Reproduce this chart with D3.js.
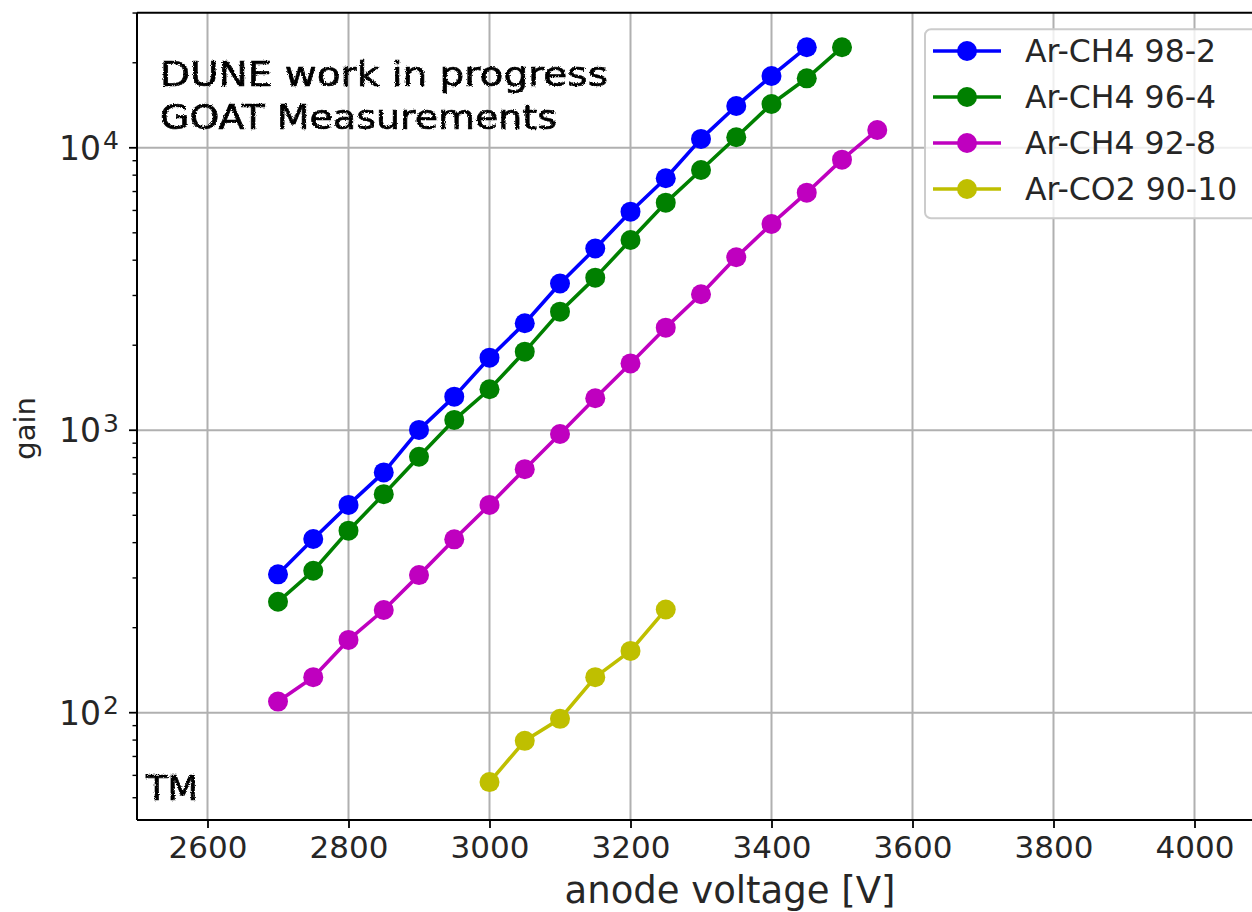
<!DOCTYPE html>
<html>
<head>
<meta charset="utf-8">
<script src="https://cdn.jsdelivr.net/npm/d3@7/dist/d3.min.js"></script>
<style>
  html, body { margin: 0; padding: 0; background: #ffffff; overflow: hidden; }
  svg { display: block; }
  text { font-family: "DejaVu Sans", sans-serif; fill: #262626; }
</style>
</head>
<body>
<svg id="chart" width="1252" height="912"></svg>
<script>
// Anode voltage scan points [V]
const voltages = [2700, 2750, 2800, 2850, 2900, 2950, 3000, 3050, 3100, 3150,
                  3200, 3250, 3300, 3350, 3400, 3450, 3500, 3550];

// Gas gain per mixture
const gainArCH4_98_2 = [309, 412, 544, 709, 1003, 1315, 1807, 2392, 3308, 4400,
                        5940, 7800, 10750, 14060, 17960, 22690];
const gainArCH4_96_4 = [247, 318, 441, 594, 806, 1088, 1397, 1898, 2629, 3470,
                        4717, 6393, 8343, 10895, 14290, 17620, 22690];
const gainArCH4_92_8 = [109.5, 133.6, 181, 231, 307, 411, 544, 728, 970, 1298,
                        1724, 2308, 3030, 4097, 5375, 6935, 9077, 11560];
const voltagesArCO2 = [3000, 3050, 3100, 3150, 3200, 3250];
const gainArCO2_90_10 = [56.8, 79.5, 95.1, 133.6, 165.5, 232];

const seriesNames = ["Ar-CH4 98-2", "Ar-CH4 96-4", "Ar-CH4 92-8", "Ar-CO2 90-10"];
const seriesColors = ["#0000ff", "#008000", "#bf00bf", "#bfbf00"];

const xTicks = [2600, 2800, 3000, 3200, 3400, 3600, 3800, 4000];
const yTicks = [100, 1000, 10000];
const xDomain = [2500, 4100];
const yDomain = [41.7, 30080];

const annotationLines = ["DUNE work in progress", "GOAT Measurements"];
const signature = "TM";

const series = [
  { name: seriesNames[0], color: seriesColors[0], x: voltages.slice(0, gainArCH4_98_2.length), y: gainArCH4_98_2 },
  { name: seriesNames[1], color: seriesColors[1], x: voltages.slice(0, gainArCH4_96_4.length), y: gainArCH4_96_4 },
  { name: seriesNames[2], color: seriesColors[2], x: voltages.slice(0, gainArCH4_92_8.length), y: gainArCH4_92_8 },
  { name: seriesNames[3], color: seriesColors[3], x: voltagesArCO2, y: gainArCO2_90_10 }
];

// ---- layout ----
const plot = { left: 137, right: 1265, top: 12.7, bottom: 820 };
const FS = 31;

const svg = d3.select("#chart");
svg.append("rect").attr("width", 1252).attr("height", 912).attr("fill", "#ffffff");

// slight jitter for the hand-lettered notes
const defs = svg.append("defs");
const rough = defs.append("filter").attr("id", "rough")
  .attr("x", "-5%").attr("y", "-20%").attr("width", "110%").attr("height", "140%");
rough.append("feTurbulence").attr("type", "fractalNoise").attr("baseFrequency", 0.9)
  .attr("numOctaves", 2).attr("seed", 3).attr("result", "noise");
rough.append("feDisplacementMap").attr("in", "SourceGraphic").attr("in2", "noise")
  .attr("scale", 3).attr("xChannelSelector", "R").attr("yChannelSelector", "G");

const x = d3.scaleLinear().domain(xDomain).range([plot.left, plot.right]);
const y = d3.scaleLog().domain(yDomain).range([plot.bottom, plot.top]);

// ---- grid ----
const grid = svg.append("g");
grid.selectAll("line.gx").data(xTicks).join("line")
  .attr("x1", d => x(d)).attr("x2", d => x(d))
  .attr("y1", plot.top).attr("y2", plot.bottom)
  .attr("stroke", "#b0b0b0").attr("stroke-width", 2);
grid.selectAll("line.gy").data(yTicks).join("line")
  .attr("x1", plot.left).attr("x2", plot.right)
  .attr("y1", d => y(d)).attr("y2", d => y(d))
  .attr("stroke", "#b0b0b0").attr("stroke-width", 2);

// ---- data ----
const lineGen = d3.line().x(d => x(d[0])).y(d => y(d[1]));
const dataG = svg.append("g");
series.forEach(s => {
  const pts = s.x.map((v, i) => [v, s.y[i]]);
  const g = dataG.append("g");
  g.append("path").datum(pts).attr("d", lineGen)
    .attr("fill", "none").attr("stroke", s.color).attr("stroke-width", 3.6)
    .attr("stroke-linejoin", "round").attr("stroke-linecap", "square");
  g.selectAll("circle").data(pts).join("circle")
    .attr("cx", d => x(d[0])).attr("cy", d => y(d[1])).attr("r", 10)
    .attr("fill", s.color);
});

// ---- axes ----
const xAxis = d3.axisBottom(x).tickValues(xTicks).tickFormat(d3.format("d"))
  .tickSize(8).tickPadding(8);
const gx = svg.append("g").attr("transform", `translate(0,${plot.bottom})`).call(xAxis);
gx.select(".domain").remove();
gx.selectAll(".tick line").attr("stroke", "#000").attr("stroke-width", 1.8);
gx.selectAll(".tick text").attr("font-size", FS).attr("font-family", "DejaVu Sans")
  .attr("fill", "#262626").attr("dy", "0.71em");

const minorY = [];
for (let e = 1; e <= 4; e++) {
  for (let m = 2; m <= 9; m++) {
    const v = m * Math.pow(10, e);
    if (v >= yDomain[0] && v <= yDomain[1]) minorY.push(v);
  }
}
const gy = svg.append("g").attr("transform", `translate(${plot.left},0)`);
gy.selectAll("line.minor").data(minorY).join("line")
  .attr("x1", 0).attr("x2", -4.5).attr("y1", d => y(d)).attr("y2", d => y(d))
  .attr("stroke", "#000").attr("stroke-width", 1.4);
gy.selectAll("line.major").data(yTicks).join("line")
  .attr("x1", 0).attr("x2", -8).attr("y1", d => y(d)).attr("y2", d => y(d))
  .attr("stroke", "#000").attr("stroke-width", 1.8);
const yl = gy.selectAll("text.ylab").data(yTicks).join("text")
  .attr("x", -18).attr("y", d => y(d)).attr("dy", "0.36em")
  .attr("text-anchor", "end").attr("font-size", 33);
yl.append("tspan").text("10");
yl.append("tspan").attr("dx", 2).attr("dy", "-0.42em").attr("font-size", 25)
  .text(d => String(Math.round(Math.log10(d))));

// spines
svg.append("line").attr("x1", plot.left).attr("x2", plot.right)
  .attr("y1", plot.bottom).attr("y2", plot.bottom).attr("stroke", "#000").attr("stroke-width", 2);
svg.append("line").attr("x1", plot.left).attr("x2", plot.right)
  .attr("y1", plot.top).attr("y2", plot.top).attr("stroke", "#000").attr("stroke-width", 2);
svg.append("line").attr("x1", plot.left).attr("x2", plot.left)
  .attr("y1", plot.top).attr("y2", plot.bottom).attr("stroke", "#000").attr("stroke-width", 2);

// axis titles
svg.append("text").attr("x", 730).attr("y", 903)
  .attr("text-anchor", "middle").attr("font-size", 37).text("anode voltage [V]");
svg.append("text").attr("transform", `translate(35,${(plot.top + plot.bottom) / 2 + 12}) rotate(-90)`)
  .attr("text-anchor", "middle").attr("font-size", 29).text("gain");

// ---- legend ----
const leg = svg.append("g");
leg.append("rect").attr("x", 925).attr("y", 29.3).attr("width", 340).attr("height", 189)
  .attr("rx", 6).attr("fill", "#ffffff").attr("fill-opacity", 0.8)
  .attr("stroke", "#cccccc").attr("stroke-width", 2);
series.forEach((s, i) => {
  const cy = 51 + i * 46;
  leg.append("line").attr("x1", 933).attr("x2", 1001).attr("y1", cy).attr("y2", cy)
    .attr("stroke", s.color).attr("stroke-width", 3.6);
  leg.append("circle").attr("cx", 967).attr("cy", cy).attr("r", 10).attr("fill", s.color);
  leg.append("text").attr("x", 1025).attr("y", cy).attr("dy", "0.36em")
    .attr("font-size", 31.5).text(s.name);
});

// ---- hand-lettered notes ----
const note = svg.append("g").attr("filter", "url(#rough)");
annotationLines.forEach((t, i) => {
  note.append("text").attr("x", 160).attr("y", 86 + i * 43)
    .attr("font-size", 33)
    .attr("textLength", i === 0 ? 448 : 397).attr("lengthAdjust", "spacingAndGlyphs")
    .style("fill", "#000").style("stroke", "#000").style("stroke-width", 0.6)
    .text(t);
});
note.append("text").attr("x", 146).attr("y", 800).attr("font-size", 33)
  .attr("textLength", 52).attr("lengthAdjust", "spacingAndGlyphs")
  .style("fill", "#000").style("stroke", "#000").style("stroke-width", 0.6)
  .text(signature);
</script>
</body>
</html>
